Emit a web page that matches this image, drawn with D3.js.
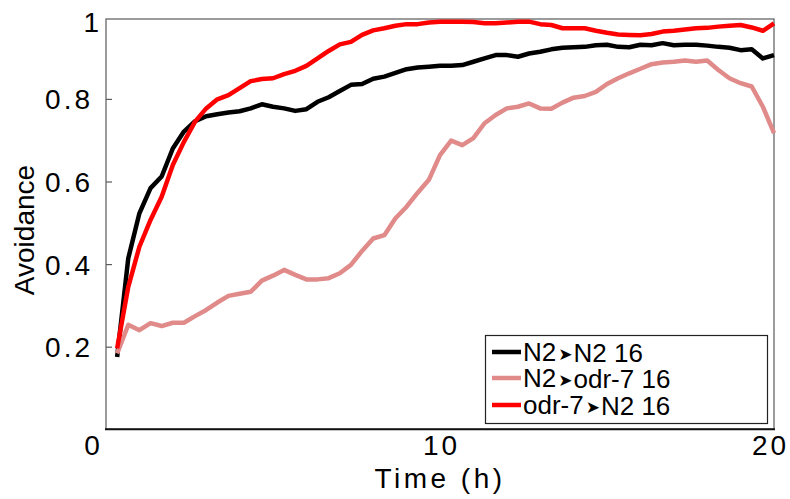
<!DOCTYPE html>
<html>
<head>
<meta charset="utf-8">
<script src="https://cdn.jsdelivr.net/npm/d3@7"></script>
<style>
  html, body { margin: 0; padding: 0; background: #fff; }
  svg { display: block; font-family: "Liberation Sans", Arial, Helvetica, sans-serif; }
</style>
</head>
<body>
<svg id="chart" width="790" height="499"></svg>
<script>
// Sampling times (minutes after start), one reading every 20 min
const minutes = [20, 40, 60, 80, 100, 120, 140, 160, 180, 200, 220, 240,
  260, 280, 300, 320, 340, 360, 380, 400, 420, 440, 460, 480,
  500, 520, 540, 560, 580, 600, 620, 640, 660, 680, 700, 720,
  740, 760, 780, 800, 820, 840, 860, 880, 900, 920, 940, 960,
  980, 1000, 1020, 1040, 1060, 1080, 1100, 1120, 1140, 1160, 1180, 1200];

// Avoidance index per strain pairing
const n2ToN2 = [0.175, 0.414, 0.523, 0.584, 0.612, 0.680, 0.721, 0.746, 0.758, 0.763, 0.767, 0.770,
  0.777, 0.787, 0.781, 0.777, 0.771, 0.775, 0.793, 0.804, 0.819, 0.834, 0.836, 0.849,
  0.854, 0.863, 0.872, 0.876, 0.878, 0.880, 0.880, 0.882, 0.890, 0.898, 0.906, 0.906,
  0.902, 0.910, 0.914, 0.920, 0.924, 0.925, 0.926, 0.930, 0.931, 0.926, 0.925, 0.931,
  0.930, 0.935, 0.930, 0.931, 0.931, 0.929, 0.926, 0.924, 0.918, 0.920, 0.898, 0.906];

const n2ToOdr7 = [0.184, 0.253, 0.240, 0.257, 0.250, 0.258, 0.258, 0.274, 0.289, 0.307, 0.323, 0.328,
  0.333, 0.360, 0.372, 0.386, 0.374, 0.363, 0.363, 0.366, 0.378, 0.398, 0.432, 0.462,
  0.470, 0.511, 0.539, 0.573, 0.604, 0.664, 0.699, 0.688, 0.705, 0.741, 0.761, 0.777,
  0.781, 0.789, 0.777, 0.776, 0.791, 0.803, 0.807, 0.817, 0.836, 0.850, 0.862, 0.873,
  0.884, 0.888, 0.890, 0.893, 0.890, 0.893, 0.870, 0.850, 0.838, 0.830, 0.781, 0.717];

const odr7ToN2 = [0.196, 0.345, 0.442, 0.507, 0.563, 0.640, 0.696, 0.745, 0.777, 0.799, 0.809, 0.826,
  0.843, 0.848, 0.850, 0.860, 0.868, 0.880, 0.898, 0.916, 0.932, 0.938, 0.955, 0.966,
  0.971, 0.977, 0.981, 0.981, 0.985, 0.987, 0.987, 0.987, 0.986, 0.983, 0.983, 0.985,
  0.987, 0.987, 0.981, 0.979, 0.971, 0.971, 0.971, 0.965, 0.960, 0.956, 0.955, 0.954,
  0.957, 0.963, 0.965, 0.968, 0.971, 0.972, 0.975, 0.977, 0.979, 0.973, 0.965, 0.983];

const legendFrom = ["N2", "N2", "odr-7"];
const legendTo = ["N2 16", "odr-7 16", "N2 16"];
const seriesColors = ["#000000", "#e08a8a", "#ff0000"];

const xTicks = [0, 10, 20];
const yTicks = [0.2, 0.4, 0.6, 0.8];

const svg = d3.select("#chart");
const plot = { left: 106, right: 774, top: 19, bottom: 429.3 };

const x = d3.scaleLinear().domain([0, 20]).range([plot.left, plot.right]);
const y = d3.scaleLinear().domain([0, 1]).range([plot.bottom, 16.3]);

const series = [n2ToN2, n2ToOdr7, odr7ToN2].map((vals, i) => ({
  color: seriesColors[i],
  points: vals.map((v, j) => ({ t: minutes[j] / 60, v }))
}));

// Frame: grey top/right/left, heavier black baseline
svg.append("rect")
  .attr("x", plot.left).attr("y", plot.top)
  .attr("width", plot.right - plot.left).attr("height", plot.bottom - plot.top)
  .attr("fill", "none").attr("stroke", "#5a5a5a").attr("stroke-width", 1.2);

// Y axis ticks (inward) and labels
const yAxis = d3.axisLeft(y).tickValues(yTicks).tickSize(-6).tickPadding(13)
  .tickFormat(d3.format(".1f"));
const gy = svg.append("g").attr("transform", `translate(${plot.left},0)`).call(yAxis);
gy.select(".domain").remove();
gy.selectAll(".tick line").attr("stroke", "#5a5a5a").attr("stroke-width", 1.2);
gy.selectAll(".tick text")
  .attr("font-size", 28).attr("fill", "#000")
  .attr("letter-spacing", 3).attr("dy", "0.36em");

svg.append("text").attr("x", 99).attr("y", 31.7)
  .attr("text-anchor", "end").attr("font-size", 28).text("1");

// X axis labels
const xAxis = d3.axisBottom(x).tickValues(xTicks).tickSize(0).tickPadding(0)
  .tickFormat(d3.format("d"));
const gx = svg.append("g").attr("transform", `translate(0,${plot.bottom})`).call(xAxis);
gx.select(".domain").remove();
gx.selectAll(".tick text")
  .attr("font-size", 28).attr("fill", "#000").attr("letter-spacing", 3)
  .attr("y", 25.5).attr("dy", 0)
  .attr("dx", d => d === 0 ? -13 : d === 20 ? -4 : 1);

svg.append("line")
  .attr("x1", plot.left - 1).attr("x2", plot.right + 1)
  .attr("y1", plot.bottom).attr("y2", plot.bottom)
  .attr("stroke", "#111").attr("stroke-width", 2);

// Axis titles
svg.append("text")
  .attr("x", 440).attr("y", 488)
  .attr("text-anchor", "middle").attr("font-size", 28).attr("letter-spacing", 3.5)
  .text("Time (h)");

svg.append("text")
  .attr("transform", "translate(34,230) rotate(-90)")
  .attr("text-anchor", "middle").attr("font-size", 28)
  .text("Avoidance");

// Data lines
const line = d3.line().x(d => x(d.t)).y(d => y(d.v));
svg.append("g").selectAll("path").data(series).join("path")
  .attr("d", d => line(d.points))
  .attr("fill", "none")
  .attr("stroke", d => d.color)
  .attr("stroke-width", 4.5)
  .attr("stroke-linejoin", "round");

// Legend
const lg = svg.append("g");
lg.append("rect")
  .attr("x", 485.5).attr("y", 335.5).attr("width", 282).attr("height", 88)
  .attr("fill", "#fff").attr("stroke", "#222").attr("stroke-width", 1.2);

const rowY = [352, 378, 405];
legendFrom.forEach((from, i) => {
  lg.append("line")
    .attr("x1", 492).attr("x2", 521)
    .attr("y1", rowY[i]).attr("y2", rowY[i])
    .attr("stroke", seriesColors[i]).attr("stroke-width", 4.5);
  const t = lg.append("text")
    .attr("x", 523).attr("y", rowY[i]).attr("dy", "0.36em")
    .attr("font-size", 26).attr("fill", "#000");
  t.append("tspan").text(from);
  t.append("tspan").attr("font-size", 17).attr("dy", "-0.1em").attr("dx", 2)
    .attr("font-family", "DejaVu Sans").text("\u27a4");
  t.append("tspan").attr("dy", "0.1em").attr("dx", 1).text(legendTo[i]);
});
</script>
</body>
</html>
